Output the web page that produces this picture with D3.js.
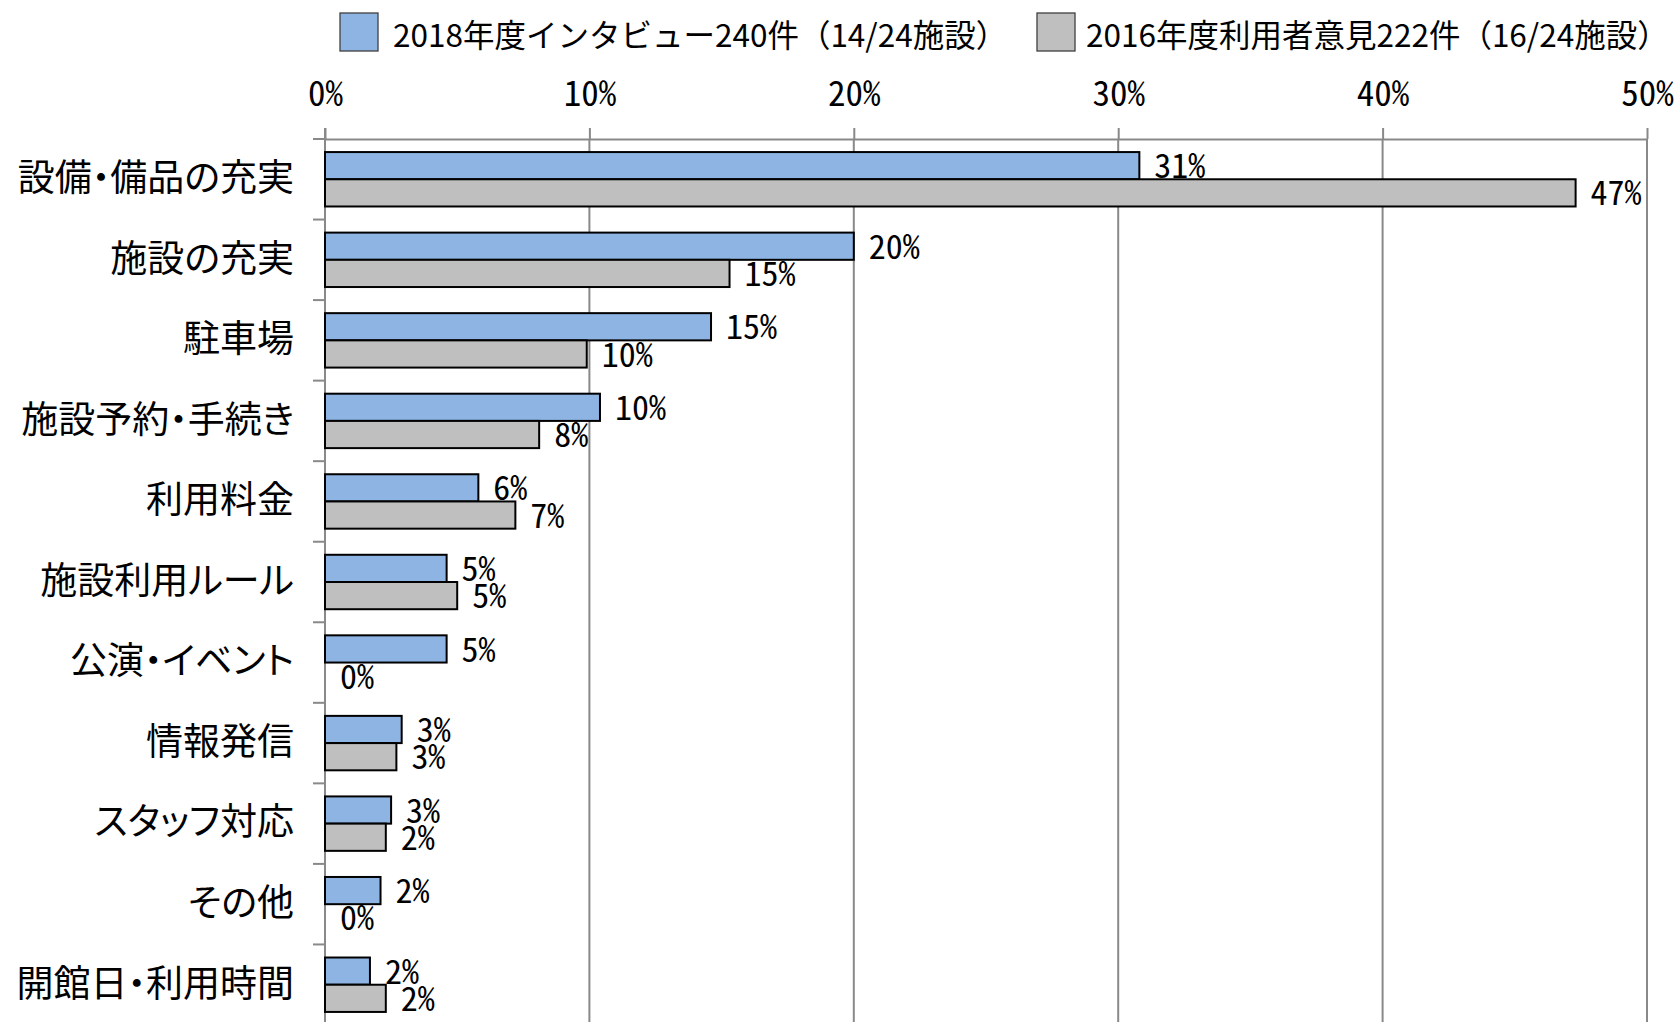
<!DOCTYPE html>
<html><head><meta charset="utf-8">
<script src="https://cdn.jsdelivr.net/npm/d3@7"></script>
<style>
html,body{margin:0;padding:0;background:#fff;overflow:hidden}
text{font-family:"Noto Sans CJK JP","Noto Sans",sans-serif;fill:#000}
.num{font-feature-settings:"hwid"}
.cat{font-feature-settings:"palt"}
</style></head>
<body><svg id="c" width="1680" height="1022"></svg>
<script>
const categories = ["設備・備品の充実","施設の充実","駐車場","施設予約・手続き","利用料金","施設利用ルール","公演・イベント","情報発信","スタッフ対応","その他","開館日・利用時間"];
const values2018 = [30.8,20.0,14.6,10.4,5.8,4.6,4.6,2.9,2.5,2.1,1.7];
const values2016 = [47.3,15.3,9.9,8.1,7.2,5.0,0,2.7,2.3,0,2.3];
const seriesNames = ["2018年度インタビュー240件（14/24施設）","2016年度利用者意見222件（16/24施設）"];
const seriesKeys = ["s2018","s2016"];
const seriesColors = ["#8EB4E3","#BFBFBF"];
const xTickValues = [0,10,20,30,40,50];

const svg = d3.select("#c");
svg.append("rect").attr("width",1680).attr("height",1022).attr("fill","#fff");

const L = 325, R = 1647, T = 139, B = 1025;
const gridColor = "#898989";
const x = d3.scaleLinear().domain([0,50]).range([L,R]);
const y = d3.scaleBand().domain(categories).range([T,B]).padding(0);
const ys = d3.scaleBand().domain(seriesKeys).range([0,y.bandwidth()]).paddingInner(0).paddingOuter(0.48);

// gridlines
svg.append("g").selectAll("line").data(xTickValues.filter(d=>d>0)).join("line")
  .attr("x1",d=>x(d)).attr("x2",d=>x(d)).attr("y1",T).attr("y2",B)
  .attr("stroke",gridColor).attr("stroke-width",2);

// top axis
const ax = svg.append("g").attr("transform",`translate(0,${T})`)
  .call(d3.axisTop(x).tickValues(xTickValues).tickSize(11).tickSizeOuter(0).tickPadding(22).tickFormat(d=>d+"%"));
ax.select(".domain").attr("stroke",gridColor).attr("stroke-width",2);
ax.selectAll(".tick line").attr("stroke",gridColor).attr("stroke-width",2);
ax.selectAll(".tick text").attr("class","num").attr("font-size",35).attr("fill","#000").attr("font-family",null);

// left axis
const yTicks = categories.map(c=>y(c)).concat([B]);
svg.append("g").selectAll("line").data(yTicks).join("line")
  .attr("x1",L-12).attr("x2",L).attr("y1",d=>d).attr("y2",d=>d)
  .attr("stroke",gridColor).attr("stroke-width",2);
svg.append("line").attr("x1",L).attr("x2",L).attr("y1",T-11).attr("y2",B)
  .attr("stroke",gridColor).attr("stroke-width",2);

const ay = svg.append("g").attr("transform",`translate(${L},0)`)
  .call(d3.axisLeft(y).tickSize(0).tickPadding(31));
ay.select(".domain").remove();
ay.selectAll(".tick text").attr("class","cat").attr("font-size",37).attr("fill","#000").attr("font-family",null);

// bars
const seriesData = [values2018, values2016];
seriesKeys.forEach((k,i)=>{
  const data = categories.map((c,j)=>({c, v: seriesData[i][j]}));
  const g = svg.append("g");
  g.selectAll("rect").data(data).join("rect")
    .attr("x",x(0)).attr("y",d=>y(d.c)+ys(k))
    .attr("width",d=>x(d.v)-x(0)).attr("height",ys.bandwidth())
    .attr("fill",seriesColors[i])
    .attr("stroke",d=>d.v>0?"#000":"none").attr("stroke-width",2);
  g.selectAll("text").data(data).join("text")
    .attr("class","num")
    .attr("x",d=>x(d.v)+15).attr("y",d=>y(d.c)+ys(k)+ys.bandwidth()-1)
    .attr("font-size",34)
    .text(d=>Math.round(d.v)+"%");
});

// legend
const legendX = [340,1037];
const legendTextX = [393,1086];
seriesNames.forEach((n,i)=>{
  svg.append("rect").attr("x",legendX[i]).attr("y",13).attr("width",38).attr("height",38)
    .attr("fill",seriesColors[i]).attr("stroke","#404040").attr("stroke-width",1.3);
  svg.append("text").attr("x",legendTextX[i]).attr("y",47)
    .attr("font-size",31.5).text(n);
});
</script></body></html>
